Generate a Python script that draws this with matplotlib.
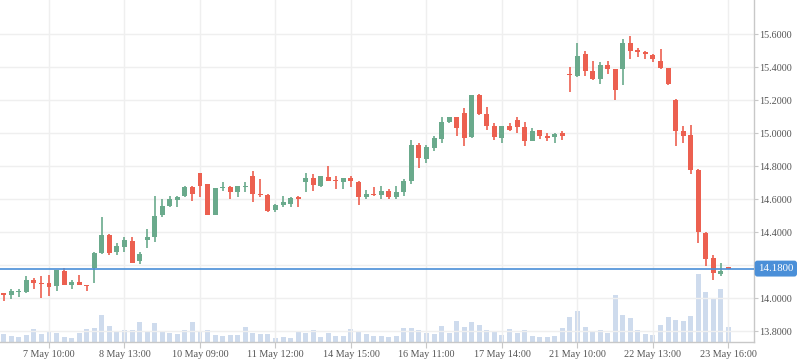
import matplotlib
matplotlib.use('Agg')
import matplotlib.pyplot as plt
import matplotlib.transforms as mtransforms
import numpy as np

# candles (index based x axis, labels every 10 candles)
opens = [14.030, 14.022, 14.038, 14.038, 14.111, 14.092, 14.093, 14.074, 14.165, 14.082,
         14.099, 14.080, 14.181, 14.274, 14.383, 14.280, 14.311, 14.347, 14.226, 14.353,
         14.371, 14.505, 14.559, 14.596, 14.620, 14.674, 14.759, 14.693, 14.505, 14.668,
         14.674, 14.644, 14.676, 14.741, 14.632, 14.626, 14.535, 14.565, 14.571, 14.608,
         14.705, 14.729, 14.681, 14.735, 14.717, 14.705, 14.729, 14.705, 14.614, 14.632,
         14.626, 14.650, 14.614, 14.644, 14.711, 14.929, 14.844, 14.911, 14.965, 15.068,
         15.099, 15.123, 14.978, 15.232, 15.117, 15.045, 14.972, 15.045, 15.081, 15.039,
         14.954, 15.020, 14.984, 14.978, 15.002, 15.360, 15.348, 15.481, 15.378, 15.329,
         15.414, 15.390, 15.390, 15.548, 15.505, 15.493, 15.475, 15.439, 15.396, 15.202,
         15.014, 14.990, 14.778, 14.396, 14.245, 14.148, 14.184]
highs = [14.031, 14.056, 14.058, 14.135, 14.123, 14.135, 14.139, 14.171, 14.181, 14.111,
         14.141, 14.080, 14.280, 14.490, 14.390, 14.335, 14.371, 14.371, 14.280, 14.420,
         14.620, 14.602, 14.620, 14.620, 14.680, 14.680, 14.759, 14.693, 14.668, 14.705,
         14.680, 14.680, 14.705, 14.771, 14.723, 14.632, 14.571, 14.620, 14.614, 14.620,
         14.759, 14.753, 14.741, 14.802, 14.741, 14.729, 14.741, 14.711, 14.656, 14.675,
         14.681, 14.662, 14.681, 14.723, 14.959, 14.941, 14.929, 14.984, 15.099, 15.099,
         15.099, 15.153, 15.232, 15.238, 15.160, 15.063, 15.045, 15.063, 15.099, 15.069,
         15.032, 15.020, 15.002, 15.002, 15.014, 15.402, 15.548, 15.499, 15.439, 15.432,
         15.439, 15.390, 15.572, 15.590, 15.517, 15.499, 15.481, 15.511, 15.396, 15.208,
         15.045, 15.051, 14.784, 14.402, 14.263, 14.214, 14.184]
lows = [13.986, 13.998, 14.010, 14.032, 14.058, 14.004, 14.016, 14.046, 14.082, 14.058,
        14.078, 14.046, 14.095, 14.268, 14.264, 14.264, 14.280, 14.214, 14.208, 14.305,
        14.341, 14.494, 14.553, 14.553, 14.614, 14.590, 14.614, 14.505, 14.505, 14.650,
        14.602, 14.614, 14.644, 14.583, 14.614, 14.523, 14.523, 14.553, 14.553, 14.553,
        14.644, 14.650, 14.675, 14.711, 14.662, 14.662, 14.675, 14.565, 14.602, 14.620,
        14.602, 14.602, 14.602, 14.620, 14.693, 14.790, 14.820, 14.893, 14.941, 15.062,
        14.984, 14.923, 14.972, 15.111, 15.020, 14.960, 14.942, 15.014, 15.002, 14.923,
        14.954, 14.966, 14.954, 14.942, 14.960, 15.251, 15.342, 15.348, 15.323, 15.299,
        15.360, 15.202, 15.293, 15.451, 15.463, 15.451, 15.432, 15.390, 15.293, 14.923,
        14.942, 14.754, 14.335, 14.196, 14.111, 14.135, 14.180]
closes = [14.022, 14.044, 14.044, 14.111, 14.095, 14.088, 14.070, 14.171, 14.082, 14.099,
          14.082, 14.076, 14.274, 14.383, 14.274, 14.317, 14.353, 14.214, 14.268, 14.371,
          14.499, 14.559, 14.602, 14.614, 14.674, 14.632, 14.680, 14.505, 14.668, 14.674,
          14.644, 14.680, 14.680, 14.632, 14.628, 14.529, 14.565, 14.583, 14.608, 14.604,
          14.729, 14.687, 14.741, 14.711, 14.709, 14.729, 14.711, 14.614, 14.632, 14.626,
          14.650, 14.614, 14.644, 14.711, 14.929, 14.850, 14.917, 14.971, 15.068, 15.099,
          15.032, 14.971, 15.232, 15.117, 15.045, 14.978, 15.045, 15.020, 15.039, 14.954,
          15.014, 14.984, 14.972, 14.996, 14.984, 15.352, 15.469, 15.378, 15.329, 15.414,
          15.390, 15.263, 15.548, 15.499, 15.493, 15.481, 15.451, 15.396, 15.299, 15.014,
          14.984, 14.778, 14.402, 14.239, 14.154, 14.166, 14.180]
volumes = [8, 6, 5, 7, 13, 8, 10, 9, 5, 4, 9, 13, 14, 27, 16, 11, 12, 12, 20, 11, 19,
           10, 9, 8, 12, 20, 11, 12, 7, 6, 7, 7, 15, 9, 8, 8, 4, 5, 4, 10, 9, 12,
           5, 9, 6, 6, 13, 11, 8, 6, 6, 5, 6, 14, 14, 12, 9, 8, 16, 9, 21, 15,
           20, 17, 12, 10, 7, 13, 9, 12, 6, 5, 5, 6, 14,
           25, 31, 15, 10, 12, 9, 47, 27, 24, 12, 8, 7, 17, 25, 22, 21, 26, 68, 50, 44, 53, 15]
volumes = [v * 1000 for v in volumes]

tick_labels = ['7 May 10:00', '8 May 13:00', '10 May 09:00', '11 May 12:00', '14 May 15:00',
               '16 May 11:00', '17 May 14:00', '21 May 10:00', '22 May 13:00', '23 May 16:00']
price_ticks = [13.8, 14.0, 14.2, 14.4, 14.6, 14.8, 15.0, 15.2, 15.4, 15.6]
last_price = 14.18

up_col = '#6aaa8c'
down_col = '#ec6050'
vol_col = '#c9d7eb'
grid_col = '#efefef'
axis_col = '#c8c8c8'
text_col = '#555555'

o = np.array(opens)
h = np.array(highs)
l = np.array(lows)
c = np.array(closes)
x = np.arange(len(o))
cols = [up_col if cc >= oo else down_col for oo, cc in zip(o, c)]

fig = plt.figure(figsize=(7.98, 3.63), dpi=100)
ax = fig.add_axes([0, 1 - 342 / 363, 754 / 798, 342 / 363])

# volume behind the candles
ax2 = ax.twinx()
ax2.bar(x, volumes, width=0.66, color=vol_col, alpha=0.9, zorder=1)
ax2.set_ylim(0, max(volumes) * 342 / 68)
ax2.axis('off')
ax.set_zorder(ax2.get_zorder() + 1)
ax.patch.set_visible(False)

# candles
ax.vlines(x, l, h, colors=cols, linewidth=1.2, zorder=3)
body_low = np.minimum(o, c)
body_h = np.maximum(np.abs(c - o), 0.007)
ax.bar(x, body_h, bottom=body_low, width=0.66, color=cols, zorder=4, linewidth=0)

ax.axhline(last_price, color='#4a8fd8', linewidth=1.2, zorder=5)

ax.set_xlim(-0.49, 99.38)
ax.set_ylim(13.735, 15.808)
ax.set_xticks(x[6::10])
ax.set_xticklabels(tick_labels)
ax.set_yticks(price_ticks)
ax.set_yticklabels(['%.4f' % p if abs(p - 14.2) > 1e-6 else '' for p in price_ticks])
ax.yaxis.tick_right()
ax.grid(True, color=grid_col, linewidth=1.0, zorder=0)
ax.set_axisbelow(True)

for s in ['left', 'top']:
    ax.spines[s].set_visible(False)
for s in ['right', 'bottom']:
    ax.spines[s].set_color(axis_col)
    ax.spines[s].set_linewidth(1.0)
ax.tick_params(axis='x', length=4, color=axis_col, pad=2, labelsize=7.3, labelcolor=text_col)
ax.tick_params(axis='y', length=3, color=axis_col, pad=1, labelsize=7.3, labelcolor=text_col)
for lab in ax.get_xticklabels() + ax.get_yticklabels():
    lab.set_fontfamily('Liberation Serif')

# last price tag
trans = mtransforms.blended_transform_factory(ax.transAxes, ax.transData)
ax.text(1.0055, last_price, '%.4f' % last_price, transform=trans, ha='left', va='center',
        color='white', fontsize=7.8, family='Liberation Serif', clip_on=False, zorder=10,
        bbox=dict(boxstyle='round,pad=0.32,rounding_size=0.25', fc='#4a8fd8', ec='none'))

fig.savefig('out.png', dpi=100, facecolor='white')
